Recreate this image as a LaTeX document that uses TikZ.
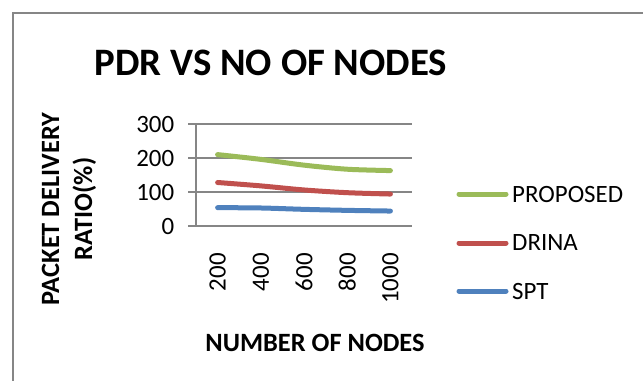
\documentclass[tikz,border=0pt]{standalone}
\usepackage{fontspec}
\setmainfont{Carlito}
\usepackage{xcolor}
\usepackage{tikz}
\usetikzlibrary{positioning,calc}
\definecolor{proposed}{HTML}{9BBB59}
\definecolor{drina}{HTML}{C0504D}
\definecolor{spt}{HTML}{4F81BD}
\definecolor{gridgray}{HTML}{868686}
\tikzset{
  framebox/.style={draw=gridgray, line width=2bp},
  gridline/.style={draw=gridgray, line width=1.5bp},
  series/.style={line width=5bp, line cap=round, line join=round, color=#1},
  series/.default=spt,
  ticklabel/.style={inner sep=0pt, font=\fontsize{25}{30}\selectfont},
  legendtext/.style={inner sep=0pt, anchor=west, font=\fontsize{25}{30}\selectfont},
  charttitle/.style={inner sep=0pt, font=\fontsize{39}{46}\selectfont\bfseries},
  axistitle/.style={inner sep=0pt, align=center, font=\fontsize{26.5}{33}\selectfont\bfseries},
}

\begin{document}
\begin{tikzpicture}[x=1bp, y=-1bp]
\useasboundingbox (0,0) rectangle (643,381);
\draw[framebox] (643,12.5) -- (12.5,12.5) -- (12.5,381);

\node[charttitle] (title) at (271,63) {PDR VS NO OF NODES};

% plot area
\begin{scope}[shift={(196,226)}, x=43.2bp, y=0.34bp]
  \foreach \v in {0,100,200,300} {
    \draw[gridline] (-0.185,\v) -- (5,\v);
    \node[ticklabel, anchor=east] (y\v) at (-0.5,\v) {\v};
  }
  \draw[gridline] (0,0) -- (0,300);
  \foreach \n [count=\i] in {200,400,600,800,1000}
    \node[ticklabel, rotate=90, anchor=east] (x\n) at (\i-0.5,-79.5) {\n};
  \draw[series=proposed] plot[smooth, tension=0.5] coordinates
    {(0.5,210) (1.5,196) (2.5,179) (3.5,167) (4.5,163)};
  \draw[series=drina] plot[smooth, tension=0.5] coordinates
    {(0.5,128) (1.5,118) (2.5,106) (3.5,98) (4.5,94)};
  \draw[series=spt] plot[smooth, tension=0.5] coordinates
    {(0.5,54) (1.5,53) (2.5,49) (3.5,46) (4.5,44)};
\end{scope}

\node[axistitle, rotate=90] (ytitle) at (69,209) {PACKET DELIVERY\\RATIO(\%)};
\node[axistitle] (xtitle) at (315,342.5) {NUMBER OF NODES};

% legend
\node[legendtext] (lgprop) at (512,194) {PROPOSED};
\node[legendtext] (lgdrina) at (512,243) {DRINA};
\node[legendtext] (lgspt) at (512,291) {SPT};
\coordinate[left=53bp of lgprop.west] (kprop);
\coordinate[left=53bp of lgdrina.west] (kdrina);
\coordinate[left=53bp of lgspt.west] (kspt);
\draw[series=proposed] (kprop) -- ([xshift=-6bp]lgprop.west);
\draw[series=drina] (kdrina) -- ([xshift=-6bp]lgdrina.west);
\draw[series=spt] (kspt) -- ([xshift=-6bp]lgspt.west);
\end{tikzpicture}
\end{document}
